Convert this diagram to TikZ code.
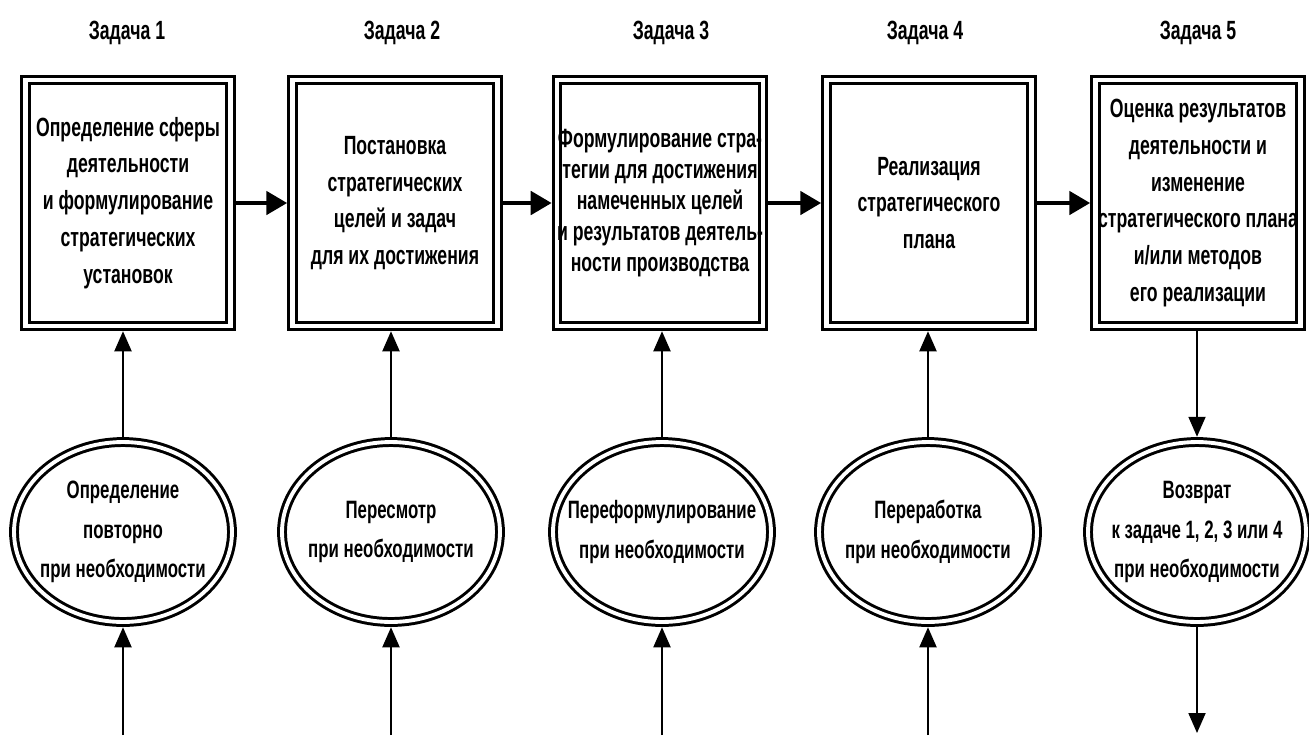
\documentclass[tikz,border=0pt]{standalone}
\usepackage{fontspec}
\setmainfont{Liberation Sans}[FakeStretch=0.67]
\usetikzlibrary{shapes.geometric,arrows.meta}

\tikzset{
  box/.style={draw, double, line width=1.7pt, double distance=2.4pt,
    minimum width=4.1cm, minimum height=4.92cm, inner sep=0pt, outer sep=3pt,
    align=center, font=\bfseries\fontsize{15}{21}\selectfont},
  oval/.style={draw, ellipse, double, line width=1.7pt, double distance=2.2pt,
    minimum width=4.36cm, minimum height=3.6cm, inner sep=0pt, outer sep=3pt},
  ovaltext/.style={align=center, inner sep=0pt, font=\bfseries\fontsize{14.3}{22.5}\selectfont},
  title/.style={font=\bfseries\fontsize{15}{18}\selectfont},
  bigarrow/.style={-{Triangle[length=0.42cm,width=0.46cm]}, line width=2.8pt},
  smallarrow/.style={-{Triangle[length=0.4cm,width=0.34cm]}, line width=1.1pt}
}

\begin{document}
\begin{tikzpicture}[x=0.02cm,y=-0.02cm]
        \useasboundingbox (0,0) rectangle (1309,735);

        % tasks
        \node[title] (t1) at (127,33) {Задача 1};
        \node[title] (t2) at (402,33) {Задача 2};
        \node[title] (t3) at (671,33) {Задача 3};
        \node[title] (t4) at (925,33) {Задача 4};
        \node[title] (t5) at (1198,33) {Задача 5};

        \node[box] (b1) at (128,203) {Определение сферы\\деятельности\\и формулирование\\стратегических\\установок};
        \node[box] (b2) at (395,203) {Постановка\\стратегических\\целей и задач\\для их достижения};
        \node[box, font=\bfseries\fontsize{15}{17.6}\selectfont] (b3) at (660,203) {Формулирование стра-\\тегии для достижения\\намеченных целей\\и результатов деятель-\\ности производства};
        \node[box] (b4) at (929,203) {Реализация\\стратегического\\плана};
        \node[box] (b5) at (1198,203) {Оценка результатов\\деятельности и\\изменение\\стратегического плана\\и/или методов\\его реализации};

        \draw[bigarrow] (b1.east) -- (b2.west);
        \draw[bigarrow] (b2.east) -- (b3.west);
        \draw[bigarrow] (b3.east) -- (b4.west);
        \draw[bigarrow] (b4.east) -- (b5.west);

        % revisions
        \node[oval] (e1) at (123,532) {};
        \node[oval] (e2) at (391,532) {};
        \node[oval] (e3) at (662,532) {};
        \node[oval] (e4) at (928,532) {};
        \node[oval] (e5) at (1197,532) {};
        \node[ovaltext] (r1) at (e1) {Определение\\повторно\\при необходимости};
        \node[ovaltext] (r2) at (e2) {Пересмотр\\при необходимости};
        \node[ovaltext] (r3) at (e3) {Переформулирование\\при необходимости};
        \node[ovaltext] (r4) at (e4) {Переработка\\при необходимости};
        \node[ovaltext] (r5) at (e5) {Возврат\\к задаче 1, 2, 3 или 4\\при необходимости};

        \draw[smallarrow] (e1.north) -- (e1.north |- b1.south);
        \draw[smallarrow] (e2.north) -- (e2.north |- b2.south);
        \draw[smallarrow] (e3.north) -- (e3.north |- b3.south);
        \draw[smallarrow] (e4.north) -- (e4.north |- b4.south);
        \draw[smallarrow] (e5.north |- b5.south) -- (e5.north);

        \coordinate (f1) at (123,735);
        \coordinate (f2) at (391,735);
        \coordinate (f3) at (662,735);
        \coordinate (f4) at (928,735);
        \coordinate (f5) at (1197,733);
        \draw[smallarrow] (f1) -- (e1.south);
        \draw[smallarrow] (f2) -- (e2.south);
        \draw[smallarrow] (f3) -- (e3.south);
        \draw[smallarrow] (f4) -- (e4.south);
        \draw[smallarrow] (e5.south) -- (f5);
    \end{tikzpicture}
\end{document}
